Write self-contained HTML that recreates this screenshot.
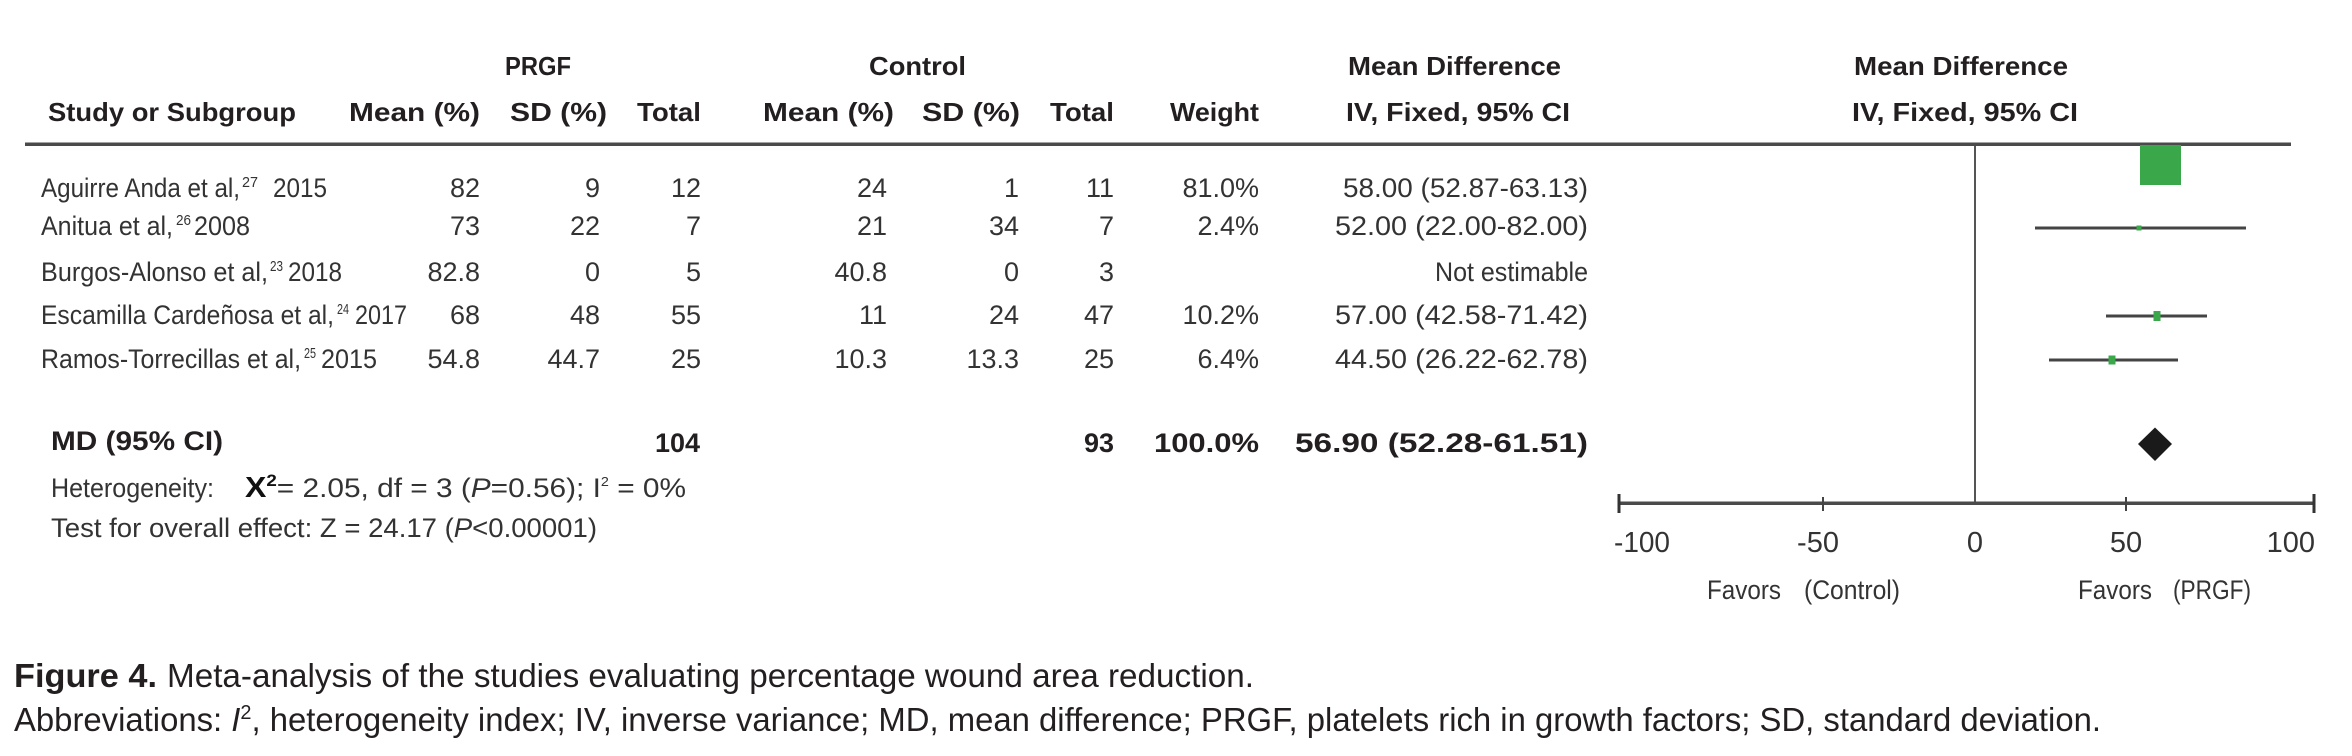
<!DOCTYPE html>
<html>
<head>
<meta charset="utf-8">
<style>
  html, body { margin: 0; padding: 0; background: #fff; }
  body { width: 2352px; height: 756px; overflow: hidden; }
  svg { display: block; }
  text { font-family: "Liberation Sans", "DejaVu Sans", sans-serif; }
</style>
</head>
<body>
<svg width="2352" height="756" viewBox="0 0 2352 756" xmlns="http://www.w3.org/2000/svg">
  <rect x="0" y="0" width="2352" height="756" fill="#ffffff"/>

  <!-- Header row 1 -->
  <g font-weight="bold" font-size="26" fill="#231f20" lengthAdjust="spacingAndGlyphs">
    <text x="505" y="75" textLength="66" lengthAdjust="spacingAndGlyphs">PRGF</text>
    <text x="869" y="75" textLength="97" lengthAdjust="spacingAndGlyphs">Control</text>
    <text x="1348" y="75" textLength="213" lengthAdjust="spacingAndGlyphs">Mean Difference</text>
    <text x="1854" y="75" textLength="214" lengthAdjust="spacingAndGlyphs">Mean Difference</text>
    <!-- Header row 2 -->
    <text x="48" y="121" textLength="248" lengthAdjust="spacingAndGlyphs">Study or Subgroup</text>
    <text x="349" y="121" textLength="131" lengthAdjust="spacingAndGlyphs">Mean (%)</text>
    <text x="510" y="121" textLength="97" lengthAdjust="spacingAndGlyphs">SD (%)</text>
    <text x="637" y="121" textLength="64" lengthAdjust="spacingAndGlyphs">Total</text>
    <text x="763" y="121" textLength="131" lengthAdjust="spacingAndGlyphs">Mean (%)</text>
    <text x="922" y="121" textLength="98" lengthAdjust="spacingAndGlyphs">SD (%)</text>
    <text x="1050" y="121" textLength="64" lengthAdjust="spacingAndGlyphs">Total</text>
    <text x="1170" y="121" textLength="89" lengthAdjust="spacingAndGlyphs">Weight</text>
    <text x="1346" y="121" textLength="224" lengthAdjust="spacingAndGlyphs">IV, Fixed, 95% CI</text>
    <text x="1852" y="121" textLength="226" lengthAdjust="spacingAndGlyphs">IV, Fixed, 95% CI</text>
  </g>

  <!-- Header rule -->
  <rect x="25" y="142.5" width="2266" height="3.5" fill="#4a4a4a"/>

  <!-- Study names -->
  <g font-size="27" fill="#333333">
    <text x="41" y="197" textLength="199" lengthAdjust="spacingAndGlyphs">Aguirre Anda et al,</text>
    <text x="242" y="187" font-size="15" textLength="16" lengthAdjust="spacingAndGlyphs">27</text>
    <text x="273" y="197" textLength="54" lengthAdjust="spacingAndGlyphs">2015</text>

    <text x="41" y="235" textLength="132" lengthAdjust="spacingAndGlyphs">Anitua et al,</text>
    <text x="176" y="225" font-size="15" textLength="15" lengthAdjust="spacingAndGlyphs">26</text>
    <text x="194" y="235" textLength="56" lengthAdjust="spacingAndGlyphs">2008</text>

    <text x="41" y="281" textLength="227" lengthAdjust="spacingAndGlyphs">Burgos-Alonso et al,</text>
    <text x="270" y="271" font-size="15" textLength="13" lengthAdjust="spacingAndGlyphs">23</text>
    <text x="288" y="281" textLength="54" lengthAdjust="spacingAndGlyphs">2018</text>

    <text x="41" y="324" textLength="293" lengthAdjust="spacingAndGlyphs">Escamilla Cardeñosa et al,</text>
    <text x="337" y="314" font-size="15" textLength="12" lengthAdjust="spacingAndGlyphs">24</text>
    <text x="355" y="324" textLength="52" lengthAdjust="spacingAndGlyphs">2017</text>

    <text x="41" y="368" textLength="260" lengthAdjust="spacingAndGlyphs">Ramos-Torrecillas et al,</text>
    <text x="304" y="358" font-size="15" textLength="12" lengthAdjust="spacingAndGlyphs">25</text>
    <text x="321" y="368" textLength="56" lengthAdjust="spacingAndGlyphs">2015</text>
  </g>

  <!-- Numeric columns (right aligned) -->
  <g font-size="27" fill="#333333" text-anchor="end">
    <!-- PRGF mean -->
    <text x="480" y="197">82</text>
    <text x="480" y="235">73</text>
    <text x="480" y="281">82.8</text>
    <text x="480" y="324">68</text>
    <text x="480" y="368">54.8</text>
    <!-- PRGF SD -->
    <text x="600" y="197">9</text>
    <text x="600" y="235">22</text>
    <text x="600" y="281">0</text>
    <text x="600" y="324">48</text>
    <text x="600" y="368">44.7</text>
    <!-- PRGF total -->
    <text x="701" y="197">12</text>
    <text x="701" y="235">7</text>
    <text x="701" y="281">5</text>
    <text x="701" y="324">55</text>
    <text x="701" y="368">25</text>
    <!-- Control mean -->
    <text x="887" y="197">24</text>
    <text x="887" y="235">21</text>
    <text x="887" y="281">40.8</text>
    <text x="887" y="324">11</text>
    <text x="887" y="368">10.3</text>
    <!-- Control SD -->
    <text x="1019" y="197">1</text>
    <text x="1019" y="235">34</text>
    <text x="1019" y="281">0</text>
    <text x="1019" y="324">24</text>
    <text x="1019" y="368">13.3</text>
    <!-- Control total -->
    <text x="1114" y="197">11</text>
    <text x="1114" y="235">7</text>
    <text x="1114" y="281">3</text>
    <text x="1114" y="324">47</text>
    <text x="1114" y="368">25</text>
    <!-- Weight -->
    <text x="1259" y="197">81.0%</text>
    <text x="1259" y="235">2.4%</text>
    <text x="1259" y="324">10.2%</text>
    <text x="1259" y="368">6.4%</text>
  </g>

  <!-- CI column -->
  <g font-size="27" fill="#333333">
    <text x="1343" y="197" textLength="245" lengthAdjust="spacingAndGlyphs">58.00 (52.87-63.13)</text>
    <text x="1335" y="235" textLength="253" lengthAdjust="spacingAndGlyphs">52.00 (22.00-82.00)</text>
    <text x="1435" y="281" textLength="153" lengthAdjust="spacingAndGlyphs">Not estimable</text>
    <text x="1335" y="324" textLength="253" lengthAdjust="spacingAndGlyphs">57.00 (42.58-71.42)</text>
    <text x="1335" y="368" textLength="253" lengthAdjust="spacingAndGlyphs">44.50 (26.22-62.78)</text>
  </g>

  <!-- Summary row -->
  <g font-size="27" font-weight="bold" fill="#231f20">
    <text x="51" y="450" textLength="172" lengthAdjust="spacingAndGlyphs">MD  (95% CI)</text>
    <text x="700" y="452" text-anchor="end">104</text>
    <text x="1114" y="452" text-anchor="end">93</text>
    <text x="1154" y="452" textLength="105" lengthAdjust="spacingAndGlyphs">100.0%</text>
    <text x="1295" y="452" textLength="293" lengthAdjust="spacingAndGlyphs">56.90 (52.28-61.51)</text>
  </g>

  <!-- Heterogeneity and test lines -->
  <g font-size="27" fill="#333333">
    <text x="51" y="497" textLength="163" lengthAdjust="spacingAndGlyphs">Heterogeneity:</text>
    <text x="245" y="497" textLength="441" lengthAdjust="spacingAndGlyphs"><tspan font-weight="bold" font-size="29" fill="#111">Χ</tspan><tspan dy="-11" font-size="17" font-weight="bold" fill="#111">2</tspan><tspan dy="11">= 2.05, df = 3 (</tspan><tspan font-style="italic">P</tspan><tspan>=0.56); I</tspan><tspan dy="-11" font-size="13">2</tspan><tspan dy="11"> = 0%</tspan></text>
    <text x="51" y="537" textLength="546" lengthAdjust="spacingAndGlyphs">Test for overall effect: Z = 24.17 (<tspan font-style="italic">P</tspan>&lt;0.00001)</text>
  </g>

  <!-- Forest plot -->
  <!-- zero line -->
  <rect x="1974" y="146" width="2" height="357" fill="#555555"/>
  <!-- axis -->
  <rect x="1619" y="501.5" width="695" height="3.5" fill="#4a4a4a"/>
  <rect x="1617.5" y="494" width="3" height="19" fill="#333333"/>
  <rect x="2312.5" y="494" width="3" height="19" fill="#333333"/>
  <rect x="1822" y="497" width="2" height="14" fill="#444444"/>
  <rect x="2125" y="497" width="2" height="14" fill="#444444"/>

  <!-- Row 1 square -->
  <rect x="2140" y="145" width="41" height="40" fill="#3aa84a"/>
  <!-- Row 2 -->
  <rect x="2035" y="226.5" width="211" height="3" fill="#444444"/>
  <rect x="2136.5" y="225.5" width="5" height="5" fill="#3aa84a"/>
  <!-- Row 4 -->
  <rect x="2106" y="314.5" width="101" height="3" fill="#444444"/>
  <rect x="2153.5" y="311" width="7" height="10" fill="#3aa84a"/>
  <!-- Row 5 -->
  <rect x="2049" y="358.5" width="129" height="3" fill="#444444"/>
  <rect x="2108.5" y="355.5" width="7" height="9" fill="#3aa84a"/>
  <!-- Diamond -->
  <polygon points="2155,427.5 2172,444 2155,461 2138,444" fill="#1a1a1a"/>

  <!-- Tick labels -->
  <g font-size="29" fill="#333333">
    <text x="1614" y="552" textLength="56" lengthAdjust="spacingAndGlyphs">-100</text>
    <text x="1818" y="552" text-anchor="middle">-50</text>
    <text x="1975" y="552" text-anchor="middle">0</text>
    <text x="2126" y="552" text-anchor="middle">50</text>
    <text x="2315" y="552" text-anchor="end">100</text>
  </g>
  <g font-size="27" fill="#333333">
    <text x="1707" y="599" textLength="74" lengthAdjust="spacingAndGlyphs">Favors</text>
    <text x="1804" y="599" textLength="96" lengthAdjust="spacingAndGlyphs">(Control)</text>
    <text x="2078" y="599" textLength="74" lengthAdjust="spacingAndGlyphs">Favors</text>
    <text x="2173" y="599" textLength="78" lengthAdjust="spacingAndGlyphs">(PRGF)</text>
  </g>

  <!-- Caption -->
  <g font-size="33" fill="#231f20">
    <text x="14" y="687" font-weight="bold" textLength="143" lengthAdjust="spacingAndGlyphs">Figure 4.</text>
    <text x="167" y="687" textLength="1087" lengthAdjust="spacingAndGlyphs">Meta-analysis of the studies evaluating percentage wound area reduction.</text>
    <text x="14" y="731" textLength="2087" lengthAdjust="spacingAndGlyphs">Abbreviations: <tspan font-style="italic">I</tspan><tspan dy="-12" font-size="20">2</tspan><tspan dy="12">, heterogeneity index; IV, inverse variance; MD, mean difference; PRGF, platelets rich in growth factors; SD, standard deviation.</tspan></text>
  </g>
</svg>
</body>
</html>
